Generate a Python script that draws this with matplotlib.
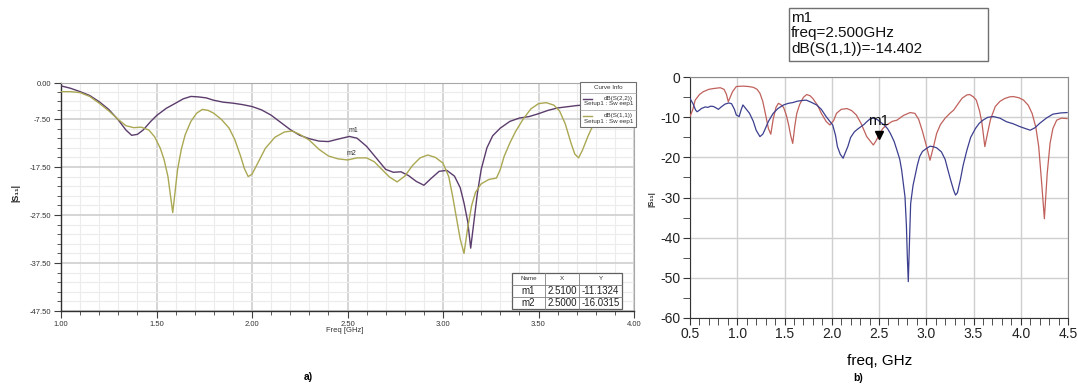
import numpy as np
import matplotlib
matplotlib.use("Agg")
import matplotlib.pyplot as plt
from matplotlib.patches import Rectangle
from matplotlib.lines import Line2D

plt.rcParams['font.family'] = ['Liberation Sans', 'DejaVu Sans']
plt.rcParams['axes.unicode_minus'] = False

W, H = 1078, 386

# ---- (a) simulated return loss, 1-4 GHz ----
f_s22 = [1.00, 1.05, 1.10, 1.15, 1.20, 1.25, 1.30, 1.34, 1.37, 1.40, 1.43, 1.47, 1.50,
         1.55, 1.60, 1.64, 1.68, 1.72, 1.76, 1.80, 1.85, 1.90, 1.95, 2.00, 2.05, 2.10,
         2.15, 2.20, 2.25, 2.30, 2.35, 2.40, 2.45, 2.51, 2.55, 2.60, 2.65, 2.70, 2.74,
         2.78, 2.82, 2.86, 2.90, 2.94, 2.98, 3.02, 3.06, 3.09, 3.11, 3.13, 3.145, 3.16,
         3.18, 3.20, 3.23, 3.26, 3.30, 3.35, 3.40, 3.45, 3.50, 3.55, 3.60, 3.70, 3.80,
         3.90, 4.00]
s22 = [-0.6, -1.1, -1.8, -2.6, -3.9, -5.5, -7.7, -9.8, -10.9, -10.7, -9.8, -8.0, -6.8,
       -5.3, -4.2, -3.3, -2.8, -2.9, -3.1, -3.6, -4.0, -4.2, -4.5, -4.9, -5.6, -6.7,
       -8.2, -9.7, -10.9, -11.6, -12.1, -12.2, -11.7, -11.1324, -11.5, -13.2, -15.6, -18.0, -18.6,
       -18.5, -19.3, -20.5, -21.3, -19.8, -18.4, -18.2, -19.4, -21.8, -25.0, -29.0, -34.4, -29.5,
       -23.0, -18.0, -13.5, -11.0, -9.4, -8.0, -7.3, -7.0, -6.4, -5.7, -5.2, -4.7, -4.4,
       -4.2, -4.0]

f_s11 = [1.00, 1.05, 1.10, 1.15, 1.20, 1.25, 1.30, 1.34, 1.38, 1.42, 1.46, 1.49, 1.52,
         1.54, 1.56, 1.575, 1.585, 1.595, 1.61, 1.63, 1.65, 1.68, 1.71, 1.74, 1.77, 1.80,
         1.84, 1.88, 1.91, 1.94, 1.96, 1.98, 2.00, 2.03, 2.07, 2.12, 2.17, 2.21, 2.25,
         2.30, 2.35, 2.40, 2.45, 2.50, 2.55, 2.60, 2.64, 2.68, 2.72, 2.76, 2.80, 2.84,
         2.88, 2.92, 2.96, 3.00, 3.03, 3.05, 3.07, 3.09, 3.11, 3.13, 3.15, 3.17, 3.20,
         3.24, 3.28, 3.30, 3.32, 3.35, 3.38, 3.42, 3.46, 3.50, 3.54, 3.58, 3.61, 3.64,
         3.67, 3.69, 3.71, 3.73, 3.76, 3.79, 3.83, 3.90, 4.00]
s11 = [-1.8, -1.8, -2.0, -2.8, -4.2, -5.8, -7.6, -8.9, -9.3, -9.2, -9.8, -11.2, -13.6,
       -16.0, -19.5, -24.0, -27.0, -23.5, -18.1, -13.8, -10.8, -8.0, -6.3, -5.5, -5.7, -6.3,
       -7.6, -9.4, -11.8, -15.2, -17.8, -19.5, -19.0, -16.7, -13.6, -11.3, -10.2, -10.0, -10.7,
       -11.9, -13.8, -15.2, -15.8, -16.0315, -15.6, -15.6, -16.4, -18.0, -19.6, -20.6, -19.4, -17.2,
       -15.6, -15.0, -15.5, -16.7, -19.5, -23.5, -28.0, -32.5, -35.5, -30.0, -25.5, -22.8, -21.0,
       -20.1, -19.8, -18.0, -15.3, -12.5, -10.1, -7.5, -5.4, -4.3, -4.1, -4.6, -5.8, -8.5,
       -12.5, -14.8, -15.6, -14.0, -11.0, -8.4, -6.0, -4.2, -3.2]

marker_names = ["m1", "m2"]
marker_x = [2.51, 2.50]
marker_y = [-11.1324, -16.0315]

# ---- (b) measured return loss, 0.5-4.5 GHz ----
f_red = [0.50, 0.53, 0.555, 0.60, 0.64, 0.70, 0.75, 0.82, 0.86, 0.885, 0.905, 0.925, 0.95,
         0.99, 1.06, 1.12, 1.17, 1.21, 1.24, 1.27, 1.29, 1.31, 1.33, 1.355, 1.38, 1.41,
         1.435, 1.46, 1.49, 1.52, 1.545, 1.565, 1.587, 1.61, 1.63, 1.66, 1.70, 1.735, 1.77,
         1.80, 1.85, 1.89, 1.94, 1.98, 2.02, 2.05, 2.10, 2.16, 2.21, 2.26, 2.31, 2.37,
         2.44, 2.47, 2.50, 2.54, 2.58, 2.64, 2.69, 2.76, 2.83, 2.88, 2.92, 2.96, 3.00,
         3.04, 3.08, 3.11, 3.15, 3.20, 3.25, 3.29, 3.34, 3.38, 3.43, 3.46, 3.50, 3.53,
         3.565, 3.59, 3.62, 3.65, 3.68, 3.73, 3.78, 3.83, 3.88, 3.92, 3.98, 4.03, 4.08,
         4.12, 4.16, 4.19, 4.22, 4.25, 4.28, 4.31, 4.34, 4.38, 4.43, 4.49]
red = [-9.8, -8.0, -5.7, -4.3, -3.6, -3.0, -2.8, -2.6, -3.0, -4.2, -6.1, -5.0, -3.6,
       -2.3, -2.2, -2.3, -2.5, -3.0, -4.0, -6.0, -8.2, -10.5, -12.8, -14.2, -10.5, -7.5,
       -6.5, -6.8, -7.5, -9.5, -12.0, -14.5, -16.5, -12.0, -9.0, -6.8, -5.0, -4.3, -4.6,
       -5.3, -7.0, -9.0, -11.0, -11.9, -10.8, -9.0, -8.0, -7.8, -8.3, -9.4, -11.5, -14.8,
       -16.9, -15.8, -14.402, -12.8, -11.9, -11.0, -10.7, -9.5, -8.8, -9.0, -10.5, -13.5, -17.0,
       -20.7, -17.0, -14.0, -11.8, -10.2, -9.0, -8.2, -6.5, -5.2, -4.4, -4.3, -4.9, -5.7,
       -8.5, -11.5, -17.3, -13.8, -10.5, -7.3, -6.0, -5.3, -4.9, -4.8, -5.1, -5.7, -7.0,
       -9.0, -12.5, -17.3, -26.0, -35.3, -24.0, -16.5, -12.8, -10.7, -10.2, -10.3]

f_blue = [0.50, 0.53, 0.56, 0.575, 0.60, 0.62, 0.66, 0.69, 0.72, 0.75, 0.78, 0.80, 0.83,
          0.87, 0.91, 0.94, 0.97, 0.99, 1.02, 1.04, 1.06, 1.09, 1.13, 1.17, 1.20, 1.24,
          1.27, 1.29, 1.33, 1.38, 1.43, 1.49, 1.54, 1.59, 1.63, 1.68, 1.73, 1.78, 1.84,
          1.89, 1.94, 1.98, 2.01, 2.04, 2.06, 2.09, 2.12, 2.14, 2.17, 2.20, 2.24, 2.27,
          2.31, 2.34, 2.37, 2.41, 2.44, 2.48, 2.51, 2.55, 2.59, 2.62, 2.66, 2.69, 2.72,
          2.74, 2.76, 2.775, 2.79, 2.80, 2.81, 2.82, 2.835, 2.86, 2.88, 2.905, 2.93, 2.96,
          3.00, 3.04, 3.07, 3.11, 3.16, 3.20, 3.23, 3.26, 3.29, 3.31, 3.33, 3.36, 3.39,
          3.43, 3.47, 3.52, 3.56, 3.60, 3.65, 3.71, 3.78, 3.85, 3.92, 3.99, 4.05, 4.10,
          4.15, 4.20, 4.27, 4.34, 4.42, 4.49]
blue = [-5.3, -6.5, -8.2, -8.6, -8.2, -7.8, -7.4, -7.5, -7.2, -7.3, -7.7, -8.0, -7.4,
        -6.7, -6.4, -6.6, -8.0, -9.4, -9.8, -8.2, -6.9, -7.8, -9.0, -11.0, -13.2, -14.8,
        -14.2, -13.2, -11.0, -9.0, -7.8, -6.9, -6.5, -6.3, -6.0, -5.8, -5.7, -6.2, -6.9,
        -8.0, -9.8, -11.0, -11.9, -14.5, -17.3, -19.2, -20.2, -19.0, -17.3, -15.0, -13.6, -13.0,
        -12.3, -11.8, -11.1, -10.3, -10.2, -10.5, -11.1, -11.8, -12.8, -14.0, -16.0, -18.2, -20.5,
        -23.2, -27.0, -29.8, -37.0, -45.0, -51.0, -43.0, -31.5, -27.0, -24.8, -22.0, -19.8, -18.5,
        -17.8, -17.2, -17.3, -17.6, -18.6, -20.5, -23.2, -25.8, -28.2, -29.4, -28.8, -25.7, -22.0,
        -18.2, -15.0, -12.8, -11.5, -10.7, -10.0, -9.8, -10.2, -11.1, -11.6, -12.3, -12.8, -13.2,
        -12.6, -11.5, -10.2, -9.2, -8.9, -8.8]

m1_freq = 2.5
m1_val = -14.402

PURPLE = '#5b3c6c'
OLIVE = '#aaa852'
RED = '#c0615c'
BLUE = '#3c3f8f'


def fx(px):
    return px / W


def fy(py):
    return 1 - py / H


fig = plt.figure(figsize=(W / 100, H / 100), dpi=100)
fig.patch.set_facecolor('white')

# ================= left panel =================
ax1 = fig.add_axes([fx(61), fy(311), fx(634) - fx(61), fy(83) - fy(311)])
ax1.plot(f_s22, s22, color=PURPLE, lw=1.0, zorder=3)
ax1.plot(f_s11, s11, color=OLIVE, lw=1.0, zorder=3)
ax1.set_xlim(1.0, 4.0)
ax1.set_ylim(-47.5, 0.0)

ax1.set_xticks(np.arange(1.0, 4.01, 0.5))
ax1.set_xticks(np.arange(1.0, 4.0, 0.1), minor=True)
ax1.set_xticklabels(['%.2f' % v for v in np.arange(1.0, 4.01, 0.5)])
yt = [0.0, -7.5, -17.5, -27.5, -37.5, -47.5]
ax1.set_yticks(yt)
ax1.set_yticklabels(['%.2f' % v for v in yt])
ymin = [-1.875, -3.75, -5.625] + [v for v in np.arange(-9.5, -47.5, -2.0)
                                   if abs((v + 7.5) % 10) > 1e-6]
ax1.set_yticks(ymin, minor=True)

ax1.grid(which='major', color='#d2d2d2', lw=1.3, zorder=0)
ax1.grid(which='minor', color='#ececec', lw=0.8, zorder=0)
ax1.tick_params(which='both', direction='out', labelsize=5.5, colors='#404040',
                labelcolor='#333333', pad=2)
ax1.tick_params(which='major', length=5, width=0.8)
ax1.tick_params(which='minor', length=3, width=0.6)
for side in ['left', 'bottom']:
    ax1.spines[side].set_color('#303030')
    ax1.spines[side].set_linewidth(1.0)
for side in ['top', 'right']:
    ax1.spines[side].set_color('#a8a8a8')
    ax1.spines[side].set_linewidth(0.8)

for name, mx, my in zip(marker_names, marker_x, marker_y):
    ax1.annotate(name, (mx, my), xytext=(-1, 2), textcoords='offset points',
                 fontsize=5, color='#333333', ha='left', va='bottom', zorder=4)

fig.text(fx(345), fy(330), 'Freq [GHz]', fontsize=5.5, color='#333333',
         ha='center', va='center')
fig.text(fx(16), fy(193), '|S₁₁|', fontsize=6.5, fontweight='bold', rotation=90,
         ha='center', va='center', color='#222222')
fig.text(fx(308), fy(377), 'a)', fontsize=7.5, fontweight='bold', ha='center', va='center')

# curve info box
fig.add_artist(Rectangle((fx(580), fy(127)), fx(636) - fx(580), fy(82) - fy(127),
                         transform=fig.transFigure, facecolor='white',
                         edgecolor='#707070', lw=0.8, zorder=5))
for py in [92.5, 110]:
    fig.add_artist(Line2D([fx(580), fx(636)], [fy(py), fy(py)], color='#a0a0a0',
                          lw=0.5, transform=fig.transFigure, zorder=6))
fig.text(fx(608), fy(87.5), 'Curve Info', fontsize=4.5, ha='center', va='center',
         color='#333333', zorder=7)
rows = [(98.5, 104, PURPLE, 'dB(S(2,2))'), (115.5, 121, OLIVE, 'dB(S(1,1))')]
for py1, py2, col, lab in rows:
    fig.add_artist(Line2D([fx(583), fx(592)], [fy(py1), fy(py1)], color=col, lw=1.0,
                          transform=fig.transFigure, zorder=7))
    fig.text(fx(633), fy(py1), lab, fontsize=4.5, ha='right', va='center',
             color='#333333', zorder=7)
    fig.text(fx(633), fy(py2), 'Setup1 : Sw eep1', fontsize=4.5, ha='right',
             va='center', color='#333333', zorder=7)

# marker table
tx = [512, 545, 579, 622]
ty = [273, 284.5, 296.5, 308.5]
fig.add_artist(Rectangle((fx(tx[0]), fy(ty[-1])), fx(tx[-1]) - fx(tx[0]),
                         fy(ty[0]) - fy(ty[-1]), transform=fig.transFigure,
                         facecolor='white', edgecolor='#606060', lw=0.9, zorder=5))
for px in tx[1:-1]:
    fig.add_artist(Line2D([fx(px), fx(px)], [fy(ty[0]), fy(ty[-1])], color='#808080',
                          lw=0.6, transform=fig.transFigure, zorder=6))
for py in ty[1:-1]:
    fig.add_artist(Line2D([fx(tx[0]), fx(tx[-1])], [fy(py), fy(py)], color='#808080',
                          lw=0.6, transform=fig.transFigure, zorder=6))
header = ['Name', 'X', 'Y']
for i, h in enumerate(header):
    fig.text(fx((tx[i] + tx[i + 1]) / 2), fy((ty[0] + ty[1]) / 2), h, fontsize=4.5,
             ha='center', va='center', color='#333333', zorder=7)
for r, (name, mx, my) in enumerate(zip(marker_names, marker_x, marker_y)):
    cells = [name, '%.4f' % mx, '%.4f' % my]
    yc = fy((ty[r + 1] + ty[r + 2]) / 2)
    for i, c in enumerate(cells):
        fig.text(fx((tx[i] + tx[i + 1]) / 2), yc, c, fontsize=7, ha='center',
                 va='center', color='#222222', zorder=7)

# ================= right panel =================
ax2 = fig.add_axes([fx(690), fy(317.7), fx(1068) - fx(690), fy(77.3) - fy(317.7)])
ax2.plot(f_red, red, color=RED, lw=0.9, zorder=3)
ax2.plot(f_blue, blue, color=BLUE, lw=0.9, zorder=3)
ax2.set_xlim(0.5, 4.5)
ax2.set_ylim(-60, 0)
ax2.set_xticks(np.arange(0.5, 4.51, 0.5))
ax2.set_xticks(np.arange(0.5, 4.5, 0.1), minor=True)
ax2.set_yticks(np.arange(-60, 1, 10))
ax2.set_yticks(np.arange(-55, 0, 10), minor=True)
ax2.set_xticklabels(['%.1f' % v for v in np.arange(0.5, 4.51, 0.5)])
ax2.grid(which='major', color='#cfcfcf', lw=1.0, zorder=0)
ax2.tick_params(which='both', direction='out', labelsize=10, colors='#333333',
                labelcolor='#222222', pad=2)
ax2.tick_params(which='major', length=5, width=0.8)
ax2.tick_params(which='minor', length=5, width=0.6)
for side in ['left', 'bottom']:
    ax2.spines[side].set_color('#333333')
for side in ['top', 'right']:
    ax2.spines[side].set_color('#8a8a8a')

ax2.plot([m1_freq], [m1_val], marker='v', color='black', markersize=6, zorder=5)
ax2.annotate('m1', (m1_freq, m1_val), xytext=(0, 5), textcoords='offset points',
             fontsize=11, ha='center', va='bottom', color='#111111', zorder=5)

fig.text(fx(880), fy(361), 'freq, GHz', fontsize=11, ha='center', va='center')
fig.text(fx(858), fy(378), 'b)', fontsize=7.5, fontweight='bold', ha='center', va='center')
fig.text(fx(652), fy(199), '|S₁₁|', fontsize=5.5, fontweight='bold', rotation=90,
         ha='center', va='center', color='#222222')

# m1 readout box above the plot
fig.add_artist(Rectangle((fx(789), fy(61)), fx(988) - fx(789), fy(8) - fy(61),
                         transform=fig.transFigure, facecolor='white',
                         edgecolor='#707070', lw=1.0, zorder=5))
readout = ['m1', 'freq=%.3fGHz' % m1_freq, 'dB(S(1,1))=%.3f' % m1_val]
for i, line in enumerate(readout):
    fig.text(fx(791), fy(17.5 + i * 16), line, fontsize=11, ha='left', va='center',
             color='#111111', zorder=6)

fig.savefig('out.png', dpi=100, facecolor='white')
